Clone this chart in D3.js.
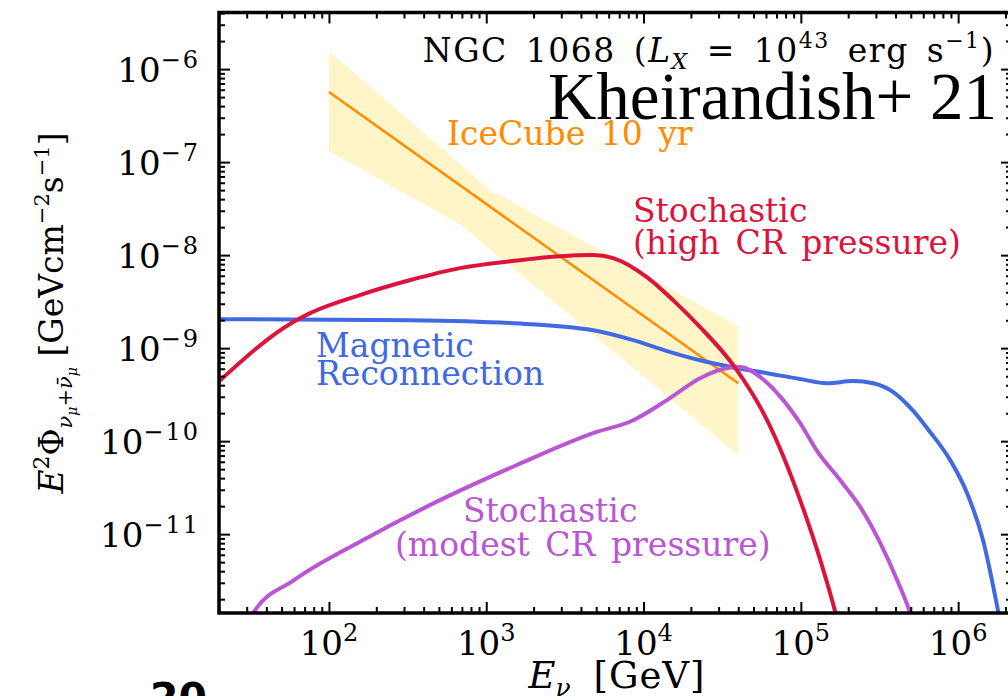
<!DOCTYPE html>
<html>
<head>
<meta charset="utf-8">
<script src="https://cdn.jsdelivr.net/npm/d3@7"></script>
<style>
	body { margin: 0; background: #fff; }
	svg { display: block; }
	text { font-family: "DejaVu Serif", serif; }
</style>
</head>
<body>
<svg id="chart" width="1008" height="696"></svg>
<script>
// AXES
const xDomain = [20, 2.2e6]
const yDomain = [1.42e-12, 4.06e-6]
const xMajor = [1e2, 1e3, 1e4, 1e5, 1e6]
const yMajor = [1e-11, 1e-10, 1e-9, 1e-8, 1e-7, 1e-6]

// ICECUBE 10 YR (BEST FIT + BAND)
const icecubeE = [100, 4e4]
const icecubeF = [5.66e-7, 4.2e-10]
const bandUpperE = [100, 1060, 4e4]
const bandUpperF = [1.56e-6, 5.0e-8, 1.73e-9]
const bandLowerE = [100, 680, 4e4]
const bandLowerF = [1.32e-7, 2.15e-8, 7.1e-11]

// STOCHASTIC (HIGH CR PRESSURE)
const highE = [20, 59, 76, 157, 330, 680, 1420, 2950, 4780, 6400, 1.05e4, 1.54e4, 2.29e4, 3.72e4, 6.1e4, 9.9e4, 1.33e5, 1.66e5, 2.0e5]
const highF = [4.4e-10, 1.9e-9, 2.38e-9, 3.72e-9, 5.4e-9, 7.25e-9, 8.6e-9, 9.75e-9, 1.0e-8, 9.3e-9, 5.8e-9, 3.28e-9, 1.68e-9, 6.56e-10, 1.68e-10, 2.32e-11, 5.25e-12, 1.42e-12, 3.5e-13]

// MAGNETIC RECONNECTION
const magE = [20, 330, 1420, 4780, 8600, 1.41e4, 2.29e4, 3.72e4, 6.1e4, 9.9e4, 1.47e5, 2.15e5, 2.89e5, 3.87e5, 5.2e5, 6.5e5, 8.9e5, 1.14e6, 1.44e6, 1.8e6, 2.0e6]
const magF = [2.05e-9, 2.0e-9, 1.86e-9, 1.56e-9, 1.22e-9, 9.3e-10, 7.4e-10, 6.2e-10, 5.38e-10, 4.65e-10, 4.2e-10, 4.42e-10, 4.2e-10, 3.37e-10, 2.1e-10, 1.31e-10, 6.25e-11, 2.76e-11, 8.6e-12, 1.45e-12, 5.6e-13]

// STOCHASTIC (MODEST CR PRESSURE)
const modE = [27, 33, 60, 164, 508, 1550, 4780, 8600, 1.41e4, 2.29e4, 3.4e4, 4.12e4, 5.52e4, 7.73e4, 9.9e4, 1.27e5, 1.78e5, 2.39e5, 3.2e5, 4.1e5, 4.96e5, 5.6e5]
const modF = [7.2e-13, 1.42e-12, 3.2e-12, 8.6e-12, 2.32e-11, 5.5e-11, 1.22e-10, 1.68e-10, 2.76e-10, 4.75e-10, 6.1e-10, 6.25e-10, 4.88e-10, 2.76e-10, 1.56e-10, 7.8e-11, 3.8e-11, 1.95e-11, 8.0e-12, 3.2e-12, 1.42e-12, 7.2e-13]

const svg = d3.select('#chart')
const m = { left: 219, right: 1012, top: 12.5, bottom: 613 }

const x = d3.scaleLog().domain(xDomain).range([m.left, m.right])
const y = d3.scaleLog().domain(yDomain).range([m.bottom, m.top])

svg.append('defs').append('clipPath').attr('id', 'plot-clip')
	.append('rect')
	.attr('x', m.left).attr('y', m.top)
	.attr('width', m.right - m.left).attr('height', m.bottom - m.top)

const plot = svg.append('g').attr('clip-path', 'url(#plot-clip)')

// BAND
const band = bandUpperE.map((d, i) => [d, bandUpperF[i]])
	.concat(bandLowerE.map((d, i) => [d, bandLowerF[i]]).reverse())
plot.append('path')
	.attr('d', d3.line().x(d => x(d[0])).y(d => y(d[1]))(band) + 'Z')
	.attr('fill', '#fff5c9')

const curve = d3.line().x(d => x(d[0])).y(d => y(d[1])).curve(d3.curveMonotoneX)
const series = [
	{ e: icecubeE, f: icecubeF, color: '#ff8c00', width: 2.5 },
	{ e: magE, f: magF, color: '#4169e1', width: 4 },
	{ e: modE, f: modF, color: '#ba55d3', width: 4 },
	{ e: highE, f: highF, color: '#dc143c', width: 4 }
]
series.forEach(s => {
	plot.append('path')
		.attr('d', curve(s.e.map((d, i) => [d, s.f[i]])))
		.attr('fill', 'none')
		.attr('stroke', s.color)
		.attr('stroke-width', s.width)
		.attr('stroke-linejoin', 'round')
})

// TICKS (INWARD ON ALL SIDES)
const xMinor = x.ticks().filter(d => !xMajor.some(c => Math.abs(c - d) / c < 1e-6))
const yMinor = y.ticks().filter(d => !yMajor.some(c => Math.abs(c - d) / c < 1e-6))

function addAxis (axisFn, scale, transform, values, size) {
	const g = svg.append('g')
		.attr('transform', transform)
		.call(axisFn(scale).tickValues(values).tickSize(-size).tickFormat(''))
	g.select('.domain').remove()
	g.selectAll('line').attr('stroke', '#000').attr('stroke-width', 2)
}
addAxis(d3.axisBottom, x, `translate(0,${m.bottom})`, xMajor, 11)
addAxis(d3.axisBottom, x, `translate(0,${m.bottom})`, xMinor, 6)
addAxis(d3.axisTop, x, `translate(0,${m.top})`, xMajor, 11)
addAxis(d3.axisTop, x, `translate(0,${m.top})`, xMinor, 6)
addAxis(d3.axisLeft, y, `translate(${m.left},0)`, yMajor, 11)
addAxis(d3.axisLeft, y, `translate(${m.left},0)`, yMinor, 6)
addAxis(d3.axisRight, y, `translate(${m.right},0)`, yMajor, 11)
addAxis(d3.axisRight, y, `translate(${m.right},0)`, yMinor, 6)

// FRAME
svg.append('rect')
	.attr('x', m.left).attr('y', m.top)
	.attr('width', m.right - m.left).attr('height', m.bottom - m.top)
	.attr('fill', 'none').attr('stroke', '#000').attr('stroke-width', 3.5)

// TICK LABELS
const exp = d => Math.round(Math.log10(d))
const xl = svg.append('g').selectAll('text').data(xMajor).join('text')
	.attr('x', d => x(d)).attr('y', 655)
	.attr('text-anchor', 'middle').attr('font-size', 34)
xl.append('tspan').text('10')
xl.append('tspan').attr('dy', -14).attr('font-size', 24).text(d => exp(d))

const yl = svg.append('g').selectAll('text').data(yMajor).join('text')
	.attr('x', 200).attr('y', d => y(d) + 13)
	.attr('text-anchor', 'end').attr('font-size', 34)
yl.append('tspan').text('10')
yl.append('tspan').attr('dy', -14).attr('font-size', 24).attr('letter-spacing', 2).text(d => '\u2212' + (-exp(d)))

// AXIS TITLES
const xt = svg.append('text').attr('x', 617).attr('y', 688)
	.attr('text-anchor', 'middle').attr('font-size', 37).attr('word-spacing', 10)
xt.append('tspan').attr('font-style', 'italic').text('E')
xt.append('tspan').attr('dy', 8).attr('font-size', 25).attr('font-style', 'italic').text('\u03bd')
xt.append('tspan').attr('dy', -8).attr('letter-spacing', 1).text(' [GeV]')

const yt = svg.append('text').attr('transform', 'translate(63,313) rotate(-90)')
	.attr('text-anchor', 'middle').attr('font-size', 33)
yt.append('tspan').attr('font-style', 'italic').text('E')
yt.append('tspan').attr('dy', -14).attr('font-size', 22).text('2')
yt.append('tspan').attr('dy', 14).text('\u03a6')
yt.append('tspan').attr('dy', 9).attr('font-size', 21).attr('font-style', 'italic').text('\u03bd')
yt.append('tspan').attr('dy', 5).attr('font-size', 14).attr('font-style', 'italic').text('\u03bc')
yt.append('tspan').attr('dy', -5).attr('font-size', 21).text('+')
yt.append('tspan').attr('font-size', 21).attr('font-style', 'italic').text('\u03bd\u0304')
yt.append('tspan').attr('dy', 5).attr('font-size', 14).attr('font-style', 'italic').text('\u03bc')
yt.append('tspan').attr('dy', -14).text(' [GeVcm')
yt.append('tspan').attr('dy', -14).attr('font-size', 21).text('\u22122')
yt.append('tspan').attr('dy', 14).text('s')
yt.append('tspan').attr('dy', -14).attr('font-size', 21).text('\u22121')
yt.append('tspan').attr('dy', 14).text(']')

// ANNOTATIONS
const ngc = svg.append('text').attr('x', 995).attr('y', 62)
	.attr('text-anchor', 'end').attr('font-size', 33).attr('letter-spacing', 1.5).attr('word-spacing', 6)
ngc.append('tspan').text('NGC 1068 (')
ngc.append('tspan').attr('font-style', 'italic').text('L')
ngc.append('tspan').attr('dy', 7).attr('font-size', 22).attr('font-style', 'italic').text('X')
ngc.append('tspan').attr('dy', -7).text(' = 10')
ngc.append('tspan').attr('dy', -14).attr('font-size', 22).text('43')
ngc.append('tspan').attr('dy', 14).text(' erg s')
ngc.append('tspan').attr('dy', -14).attr('font-size', 22).text('\u22121')
ngc.append('tspan').attr('dy', 14).text(')')

svg.append('text').attr('x', 997).attr('y', 119)
	.attr('text-anchor', 'end').attr('font-size', 67)
	.style('font-family', '"Liberation Serif", serif')
	.text('Kheirandish+ 21')

const labels = [
	{ text: 'IceCube 10 yr', x: 447, y: 145, color: '#ff8c00' },
	{ text: 'Stochastic', x: 633, y: 222, color: '#dc143c' },
	{ text: '(high CR pressure)', x: 633, y: 254, color: '#dc143c' },
	{ text: 'Magnetic', x: 316, y: 357, color: '#4169e1' },
	{ text: 'Reconnection', x: 316, y: 385, color: '#4169e1' },
	{ text: 'Stochastic', x: 463, y: 522, color: '#ba55d3' },
	{ text: '(modest CR pressure)', x: 395, y: 556, color: '#ba55d3' }
]
svg.append('g').selectAll('text').data(labels).join('text')
	.attr('x', d => d.x).attr('y', d => d.y)
	.attr('fill', d => d.color).attr('font-size', 33).attr('word-spacing', 5)
	.text(d => d.text)

// CUT-OFF PANEL NUMBER AT THE BOTTOM
svg.append('text').attr('x', 150).attr('y', 712)
	.attr('font-size', 41).attr('font-weight', 'bold')
	.style('font-family', '"DejaVu Sans", sans-serif')
	.text('20')
</script>
</body>
</html>
